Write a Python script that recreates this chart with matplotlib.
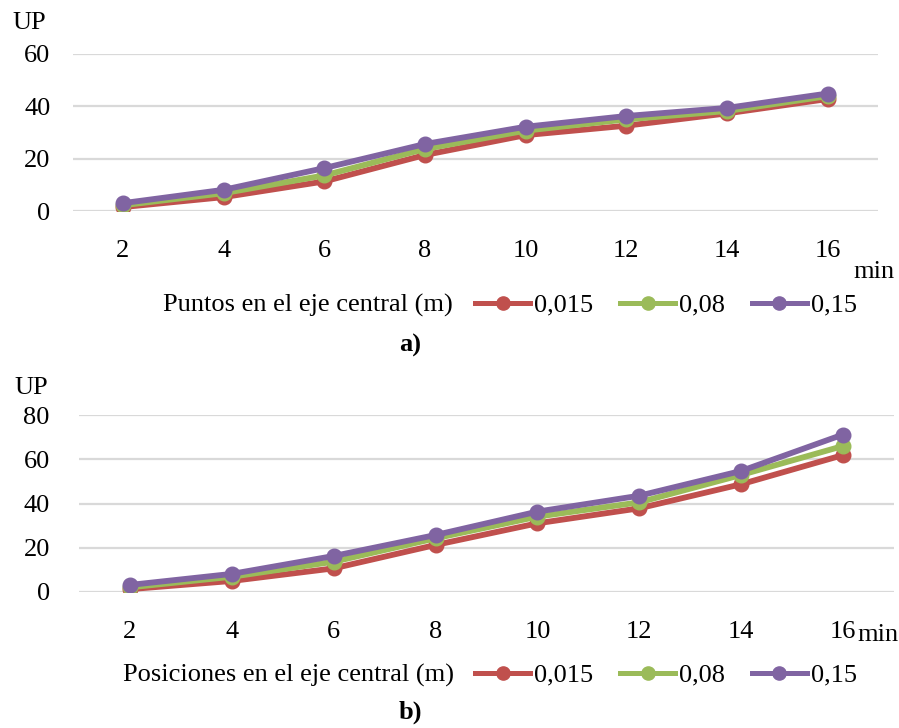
import matplotlib
matplotlib.use("Agg")
import matplotlib.pyplot as plt

plt.rcParams['font.family'] = ['Liberation Serif', 'DejaVu Serif']

categories = ['2', '4', '6', '8', '10', '12', '14', '16']
series_names = ['0,015', '0,08', '0,15']
colors = ['#C0504D', '#9BBB59', '#8064A2']

a_red = [1.5, 5.3, 11.3, 21.4, 29.0, 32.6, 37.3, 42.8]
a_green = [2.2, 6.8, 13.6, 23.7, 30.7, 35.0, 38.2, 43.9]
a_purple = [3.0, 8.1, 16.4, 25.6, 32.2, 36.3, 39.4, 44.9]

b_red = [1.3, 5.0, 10.7, 21.3, 31.1, 37.9, 48.8, 62.0]
b_green = [2.1, 6.9, 13.7, 24.3, 34.1, 40.6, 53.0, 66.1]
b_purple = [3.2, 8.2, 16.3, 25.8, 36.4, 43.6, 54.8, 71.3]

W, H = 899, 728
FS = 19
fig = plt.figure(figsize=(W / 100, H / 100), dpi=100)


def px_axes(x0, x1, ytop, ybot):
    return fig.add_axes([x0 / W, 1 - ybot / H, (x1 - x0) / W, (ybot - ytop) / H])


def panel(ax, data, ymax, yticks, xpad, ypad):
    xs = list(range(len(categories)))
    handles = []
    for vals, c in zip(data, colors):
        h, = ax.plot(xs, vals, color=c, lw=4.2, marker='o', ms=10.5,
                     solid_joinstyle='round', zorder=3)
        handles.append(h)
    ax.set_xlim(-0.5, len(categories) - 0.5)
    ax.set_ylim(0, ymax)
    ax.set_yticks(yticks)
    ax.set_xticks(xs)
    ax.set_xticklabels(categories)
    ax.grid(axis='y', color='#D9D9D9', lw=1.6, zorder=0)
    ax.set_axisbelow(True)
    for s in ax.spines.values():
        s.set_visible(False)
    ax.tick_params(axis='both', length=0, labelsize=FS)
    ax.tick_params(axis='x', pad=xpad)
    ax.tick_params(axis='y', pad=ypad)
    ax.patch.set_alpha(0)
    return handles


def legend(handles, y):
    leg = fig.legend(handles, series_names, loc='center left',
                     bbox_to_anchor=(475 / W, 1 - y / H),
                     frameon=False, ncol=3, fontsize=FS, handlelength=2.1,
                     handletextpad=0.15, columnspacing=1.0, borderpad=0,
                     borderaxespad=0)
    for ln in leg.get_lines():
        ln.set_linewidth(3.6)
        ln.set_markersize(9.5)


# Panel a
ax1 = px_axes(72.6, 878, 54, 211)
h1 = panel(ax1, [a_red, a_green, a_purple], 60, [0, 20, 40, 60], 21, 16)
fig.text(12 / W, 1 - 23 / H, 'UP', fontsize=FS, va='center', ha='left')
fig.text(853 / W, 1 - 272 / H, 'min', fontsize=FS, va='center', ha='left')
fig.text(163 / W, 1 - 305 / H, 'Puntos en el eje central (m)', fontsize=FS,
         va='center', ha='left')
legend(h1, 305)
fig.text(410 / W, 1 - 345 / H, 'a)', fontsize=FS, fontweight='bold',
         va='center', ha='center')

# Panel b
ax2 = px_axes(79, 894, 415.3, 592)
h2 = panel(ax2, [b_red, b_green, b_purple], 80, [0, 20, 40, 60, 80], 21, 21)
fig.text(14 / W, 1 - 388 / H, 'UP', fontsize=FS, va='center', ha='left')
fig.text(857 / W, 1 - 635 / H, 'min', fontsize=FS, va='center', ha='left')
fig.text(123 / W, 1 - 675 / H, 'Posiciones en el eje central (m)', fontsize=FS,
         va='center', ha='left')
legend(h2, 675)
fig.text(410 / W, 1 - 712 / H, 'b)', fontsize=FS, fontweight='bold',
         va='center', ha='center')

fig.savefig('out.png', dpi=100)
